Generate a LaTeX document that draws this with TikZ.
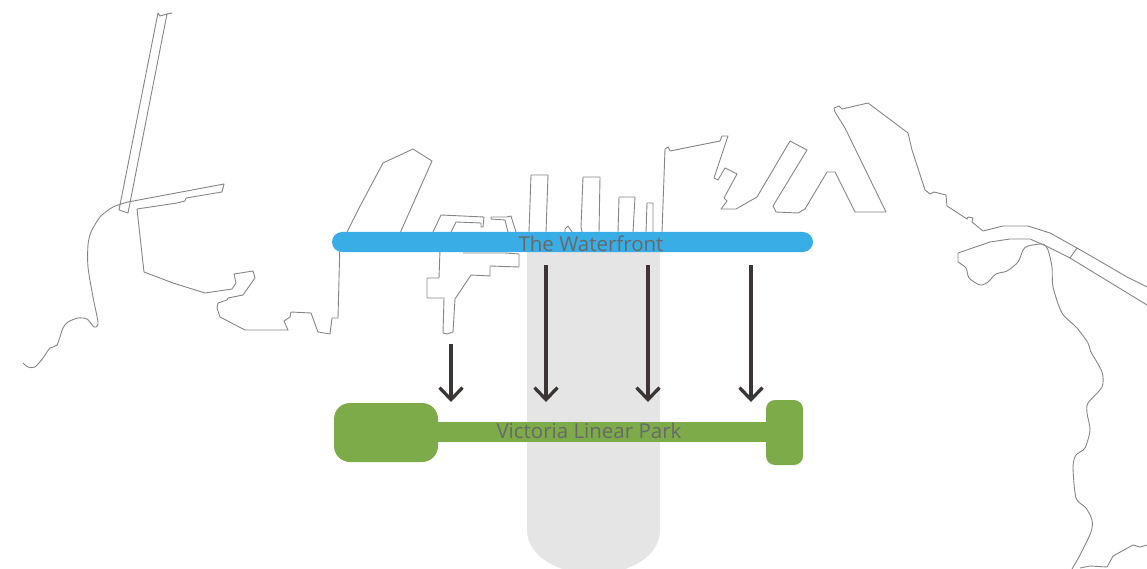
\documentclass[tikz,border=0pt]{standalone}
\usepackage{fontspec}
\setmainfont{Open Sans}
\usetikzlibrary{arrows.meta}
\definecolor{coast}{HTML}{858585}
\definecolor{road}{HTML}{E5E5E5}
\definecolor{water}{HTML}{38ADE6}
\definecolor{park}{HTML}{7DAB4A}
\definecolor{arrowc}{HTML}{3C3535}
\definecolor{labelc}{HTML}{696969}
\tikzset{
  coastline/.style={draw=coast,line width=0.9pt,line join=round,fill=none},
  parkbox/.style={fill=park,draw=none,inner sep=0pt,rectangle},
  labeltext/.style={text=labelc,inner sep=0pt,font=\fontsize{20.5}{24}\selectfont},
  flowarrow/.style={draw=arrowc,line width=3.3pt,-{Straight Barb[length=12pt,width=23pt,line width=3.3pt]}}
}
\begin{document}
\begin{tikzpicture}[x=1pt,y=-1pt]
\useasboundingbox (0,0) rectangle (1147,569);
% corridor
\clip (0,0) rectangle (1147,569);
\fill[road] (527,252) -- (660,252) -- (660,530) .. controls (660,556) and (630,574) .. (594,574) .. controls (558,574) and (527,556) .. (527,530) -- cycle;
% left coast
\draw[coastline] plot[smooth,tension=0.45] coordinates {(23,363) (28,367) (35,367) (43,358) (50,348) (57,345) (63,328) (68,322) (78,318) (87,319) (93,326) (96,327) (98,322) (93,297) (88,267) (88,245) (91,232) (100,217) (113,207) (128,202)} -- (224,184) -- (222,192) -- (186,198) -- (185,201) -- (177,203) -- (137,209) -- (144,272) -- (173,283) -- (205,293) -- (232,289) -- (236,283) -- (234,274) -- (253,271) -- (255,278) -- (243,295) -- (228,298) -- (227,300) -- (218,303) -- (217,308) -- (220,317) -- (245,330) -- (288,330) -- (284,321) -- (290,317) -- (291,312) -- (311,313) -- (318,332) -- (330,334) -- (332,318) -- (338,318) -- (340,240);
% long pier
\draw[coastline] (172,13) -- (167,14) -- (128,213) -- (119,210) -- (158,13) -- (160,16) -- (167,14);
% upper piers
\draw[coastline] (347,232) -- (358,210) -- (383,163) -- (413,149) -- (432,161) -- (397,240);
\draw[coastline] (433,232) -- (441,215) -- (484,217) -- (483,227) -- (481,227) -- (481,223) -- (456,222) -- (451,232);
\draw[coastline] (508,232) -- (505,220) -- (491,219) -- (491,217) -- (507,217) -- (511,216) -- (516,232);
\draw[coastline] (440,250) -- (439,278) -- (427,278) -- (427,298) -- (444,298) -- (443,333) -- (447,334) -- (453,332) -- (455,299) -- (471,275) -- (490,276) -- (490,266) -- (519,267) -- (519,254) -- (505,253) -- (463,253);
\draw[coastline] (529,232) -- (531,175) -- (548,175) -- (546,232);
\draw[coastline] (582,232) -- (581,227) -- (583,177) -- (600,177) -- (599,232);
\draw[coastline] (565,232) -- (565,229) -- (568,226) -- (572,232);
\draw[coastline] (618,232) -- (619,197) -- (635,197) -- (633,232);
\draw[coastline] (646,232) -- (647,203) -- (653,203) -- (653,232);
\draw[coastline] (662,232) -- (665,149) -- (668,147) -- (670,151) -- (720,141) -- (722,136) -- (728,136) -- (714,178) -- (718,180) -- (725,168) -- (737,174) -- (724,198) -- (727,201) -- (721,209) -- (736,209) -- (757,197) -- (790,141) -- (807,150) -- (773,206) -- (776,212) -- (798,213) -- (805,209) -- (827,172) -- (835,172) -- (855,212) -- (886,212) -- (845,128) -- (835,112) -- (834,108) -- (839,106) -- (842,109) -- (868,103) -- (908,133) -- (912,150) -- (925,190) -- (930,194) -- (934,192) -- (946,195) -- (947,206) -- (967,219) -- (968,217) -- (973,218) -- (972,222) -- (983,231) -- (1003,226) -- (1028,226) -- (1050,233) -- (1077,248) -- (1103,263) -- (1127,277) -- (1147,287);
% right coast
\draw[coastline] (1147,305) -- (1070,258) -- (1048,247) -- (1030,239) -- (1010,239) -- (990,242) -- (958,253) -- (958,262);
\draw[coastline] plot[smooth,tension=0.45] coordinates {(958,262) (966,268) (969,278) (980,285) (988,282) (996,274) (1007,271) (1018,262) (1023,250) (1028,246) (1043,244) (1048,250) (1052,267) (1053,287) (1062,313) (1077,328) (1088,343) (1091,352) (1102,372) (1102,387) (1088,403) (1087,413) (1090,430) (1085,448) (1076,455) (1073,467) (1076,498) (1086,508) (1092,520) (1091,532) (1080,555) (1072,569)};
\draw[coastline] (1077,248) -- (1070,258);
\draw[coastline] (1080,568) -- (1090,566) -- (1107,567) -- (1113,556) -- (1133,545) -- (1140,547) -- (1147,545);
% waterfront
\node[fill=water,draw=none,rectangle,rounded corners=10pt,minimum width=481pt,minimum height=20pt,inner sep=0pt] (waterfront) at (572.5,242) {};
% park
\node[parkbox,minimum width=330pt,minimum height=20pt] (parkbar) at (602,432) {};
\node[parkbox,rounded corners=16pt,minimum width=104pt,minimum height=59pt] (parkleft) at (386,432.5) {};
\node[parkbox,rounded corners=9pt,minimum width=37pt,minimum height=65pt] (parkright) at (784.5,432.5) {};
% labels
\node[labeltext] (wlabel) at (591,244) {The Waterfront};
\node[labeltext] (plabel) at (589,431) {Victoria Linear Park};
% arrows
\coordinate (a1s) at (451,344); \coordinate (a1e) at (451,402);
\coordinate (a2s) at (546,265); \coordinate (a2e) at (546,402);
\coordinate (a3s) at (648,265); \coordinate (a3e) at (648,402);
\coordinate (a4s) at (751,265); \coordinate (a4e) at (751,402);
\draw[flowarrow] (a1s) -- (a1e);
\draw[flowarrow] (a2s) -- (a2e);
\draw[flowarrow] (a3s) -- (a3e);
\draw[flowarrow] (a4s) -- (a4e);
\end{tikzpicture}
\end{document}
